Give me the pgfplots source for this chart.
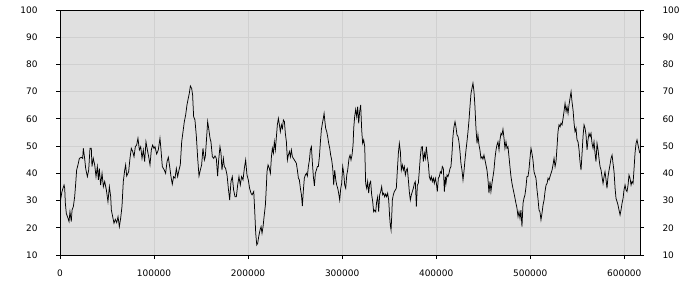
\documentclass[border=0pt]{standalone}
\usepackage{fontspec}
\setmainfont{DejaVu Sans}
\usepackage{pgfplots}
\usepackage{pgfplotstable}
\pgfplotsset{compat=1.18}
\definecolor{bg}{RGB}{224,224,224}
\definecolor{gridc}{RGB}{208,208,208}
\pgfplotstableread{
x y
0 29.0
2100 33.3
4300 35.7
5000 34.5
5700 29.0
6700 25.3
8500 23.5
9600 22.3
10600 25.9
12000 22.3
12800 26.5
14200 27.8
15600 31.4
16700 36.3
17700 41.2
19100 43.1
20600 45.5
22700 45.9
24100 45.5
24800 49.2
26200 45.5
27300 41.8
29100 38.8
30500 41.2
31900 49.2
33300 49.2
34000 42.5
35400 45.5
36900 43.1
38300 38.8
39700 42.5
40800 37.6
41800 41.8
43200 35.7
44700 40.0
46100 35.1
47500 37.0
49300 33.9
51000 29.6
52500 35.1
53900 31.4
54600 26.5
56000 24.1
57400 21.7
58800 23.1
60300 21.9
61700 24.1
63100 20.4
64500 23.5
65900 27.8
67300 37.0
68800 41.2
69800 43.1
70900 39.0
73000 40.6
74400 45.5
75800 49.2
77300 48.0
78700 46.1
80100 49.8
81500 50.4
82900 52.9
84400 48.6
85800 49.8
87200 45.5
88600 48.6
90000 44.3
91400 51.6
92900 48.6
94300 46.1
95700 43.1
97100 48.6
98500 50.4
99900 49.2
101000 49.8
102800 47.1
104500 48.6
106300 52.9
107400 48.6
108800 42.5
110900 41.2
112300 40.0
113800 44.3
115200 45.9
116600 42.5
118000 38.8
119400 36.0
120800 38.8
122300 38.2
123700 41.8
125100 38.8
126500 41.2
127900 43.1
129400 51.6
130800 55.3
132200 59.0
133600 61.4
135000 65.1
136400 67.6
137500 69.4
138600 72.1
140000 71.2
141000 68.8
142100 60.8
143500 59.6
145000 53.5
146400 45.5
147800 39.0
149200 41.2
150600 43.1
152000 49.2
153500 44.9
154500 46.1
155600 51.6
157000 59.0
158100 56.5
159500 52.9
160500 51.6
162000 46.1
163400 45.5
164800 46.4
166200 45.5
167600 39.0
168700 44.9
170100 49.8
171200 47.4
172200 41.2
173700 45.5
174700 42.5
176100 41.8
177600 39.4
179000 34.5
180400 30.2
181800 37.0
183200 38.8
184600 33.9
186100 31.4
187500 31.4
188900 35.7
190300 38.8
191700 35.7
193100 38.8
194600 37.6
196000 41.8
197400 44.9
198800 39.4
200200 37.6
201600 34.5
203100 32.7
204200 32.1
206000 33.3
207000 26.5
208100 18.0
209200 13.7
210200 14.3
211300 16.8
212700 19.2
213800 20.4
214800 18.0
215900 20.4
217000 24.1
218400 28.4
219400 35.1
220100 40.6
221200 43.1
222600 41.8
223700 40.0
224800 46.1
225800 49.2
226900 47.4
227900 51.6
229000 48.6
230100 53.5
231100 57.8
232200 60.2
233300 57.8
234300 55.3
235400 57.8
236500 56.5
237500 59.6
238600 59.0
239600 54.7
240700 51.6
241800 44.9
242800 46.7
243900 48.0
245000 46.1
246000 48.6
247100 46.1
248100 45.5
249200 44.9
250300 44.3
251300 43.7
252400 41.2
253500 38.2
254500 37.6
255600 34.5
256700 32.1
257700 28.0
258800 33.9
259800 38.2
260900 39.4
262000 40.0
263000 39.0
264100 42.5
265200 44.9
266200 48.6
267300 49.8
268400 43.7
269400 38.8
270500 35.4
271500 40.0
272600 41.2
273700 42.5
274700 42.5
275800 46.1
276900 51.6
277900 56.0
279000 58.4
280000 60.2
280800 62.0
281500 59.6
282500 56.5
283600 55.3
284600 53.5
285700 51.0
286800 49.2
287800 46.7
288900 44.9
290000 41.8
291000 35.7
292100 41.2
293200 37.6
294200 35.7
295300 34.5
296300 32.7
297400 30.2
298500 34.5
299500 36.3
300600 42.5
301700 40.0
302700 35.7
303800 34.5
304900 39.4
305900 41.2
307300 45.5
308400 46.7
309400 44.9
310500 46.7
311600 50.4
312300 56.5
313300 60.8
314400 63.5
315500 60.8
316500 64.5
317600 58.4
318600 62.7
319700 65.1
320800 55.9
321800 51.0
322900 52.3
324000 49.8
325000 36.3
326100 34.5
327100 37.0
328200 32.7
329300 36.3
330300 37.0
331400 32.1
332500 29.6
333500 25.9
334600 26.5
335700 25.9
336700 29.6
337800 31.4
338800 25.9
339900 32.1
341000 33.3
342000 35.1
343100 32.1
344200 32.7
345200 31.4
346300 32.4
347300 31.4
348400 32.7
349500 30.2
350500 24.1
351200 21.0
352000 19.2
352700 24.1
353400 30.2
354400 32.1
355500 33.3
356600 33.9
357600 34.5
358700 41.2
359800 47.4
360800 51.0
361900 48.0
362900 41.2
364000 43.1
365100 41.2
366100 42.5
367200 39.4
368300 41.2
369300 41.8
370400 37.6
371400 33.3
372500 30.2
373600 32.1
374600 33.3
375700 34.5
376800 36.3
377800 37.0
378900 27.8
380000 35.7
381000 36.3
382100 41.2
383100 46.1
384200 49.6
385300 49.8
386300 44.3
387400 47.4
388500 45.5
389500 49.8
390600 46.1
391600 43.7
392700 38.8
393800 37.6
394800 38.8
395900 37.0
397000 38.2
398000 36.3
399100 38.2
400200 36.3
401200 33.3
402300 38.2
403300 38.8
404400 40.6
405500 40.0
406500 42.5
407600 41.8
408700 33.3
409700 38.8
410400 36.3
411500 39.4
412500 38.8
413600 40.0
414700 41.8
415700 42.5
416800 47.4
417800 53.5
418900 57.1
420000 59.0
421000 57.1
422100 54.1
423200 53.5
424200 51.6
425300 48.0
426300 43.7
427400 41.2
428500 37.6
429500 40.6
430600 44.9
431700 48.6
432700 51.6
433800 55.3
434900 59.6
435900 64.5
437000 69.4
438000 71.2
439100 73.1
440200 70.0
441200 64.5
442300 56.5
443400 51.0
444400 54.1
445500 50.4
446500 48.6
447600 45.5
448700 46.1
449700 45.2
450800 46.7
451900 44.9
452900 43.1
454000 41.2
455100 37.6
456100 32.7
457200 37.0
458200 33.3
459300 36.3
460400 38.8
461400 41.2
462500 45.5
463600 48.6
464600 50.4
465700 51.6
466800 48.6
467800 52.3
468900 54.7
469900 54.1
471000 56.2
472100 52.9
473100 49.2
474200 51.6
475300 49.2
476300 49.8
477400 46.1
478400 42.5
479500 38.8
480600 36.3
481600 34.5
482700 32.7
483800 30.8
484800 29.0
485900 27.2
487000 24.1
488000 25.9
489100 23.5
490100 26.5
491200 20.4
492300 29.0
493300 30.8
494400 32.1
495500 35.1
496500 38.8
497600 38.8
498600 41.2
499700 45.5
500800 49.2
501800 47.4
502900 44.9
504000 40.6
505000 39.4
506100 38.2
507200 33.9
508200 30.8
509300 26.5
510300 25.9
511400 22.9
512500 25.3
513600 28.4
514700 30.2
515700 33.3
516800 35.7
517900 36.3
518900 38.2
520000 37.6
521000 38.8
522100 40.0
523200 41.2
524200 43.1
525300 45.5
526400 42.5
527400 44.3
528500 49.8
529500 55.3
530600 57.8
531700 57.1
532700 58.4
533800 57.8
534900 60.2
535900 62.7
537000 65.7
538100 62.7
539100 64.5
540200 62.0
541200 65.1
542300 67.6
543400 70.0
544400 66.3
545500 63.3
546600 58.4
547600 55.3
548700 56.5
549700 52.3
550800 51.6
551900 48.6
552900 44.3
554000 41.2
555100 47.4
556100 53.5
557200 57.8
558300 56.5
559300 54.1
560400 48.6
561400 52.3
562500 54.7
563600 53.5
564600 54.7
565700 51.0
566800 49.2
567800 51.6
568900 47.4
569900 44.3
571000 51.0
572100 48.6
573100 45.5
574200 42.5
575300 41.2
576300 38.8
577400 36.3
578500 38.8
579500 40.6
580600 37.6
581600 34.5
582700 38.8
583800 41.2
584800 43.1
585900 45.5
587000 46.7
588000 43.7
589100 40.6
590200 34.5
591200 30.8
592300 29.6
593300 28.4
594400 26.5
595500 24.7
596500 26.5
597600 29.0
598700 30.8
599700 33.9
600800 35.7
601800 33.9
602900 33.3
604000 35.7
605000 39.4
606100 38.2
607200 35.7
608200 37.0
609300 36.3
610400 41.8
611400 47.4
612500 51.0
613500 52.3
614600 50.4
615700 48.6
616400 47.4
}\series
\begin{document}
\begin{tikzpicture}
\useasboundingbox (-60bp,-45bp) rectangle (640bp,255bp);
\pgfplotsset{common/.style={
  scale only axis, width=580bp, height=245bp,
  at={(0,0)}, anchor=south west,
  xmin=0, xmax=616700, ymin=10, ymax=100,
  ytick={10,20,...,100},
  tick label style={font=\fontsize{9}{10}\selectfont, /pgf/number format/assume math mode=true},
  tick align=outside, major tick length=4bp,
  tick style={black, line width=0.8bp},
  axis line style={black, line width=0.8bp},
}}
\begin{axis}[common,
  axis background/.style={fill=bg},
  grid=major, grid style={gridc, line width=0.8bp},
  xtick={0,100000,...,600000},
  scaled x ticks=false,
  xticklabel style={yshift=-7bp, /pgf/number format/.cd, fixed, 1000 sep={}},
  xtick pos=bottom, ytick pos=left,
  yticklabel style={xshift=-15bp},
]
\addplot[black, line width=0.75bp] table[x=x, y=y] {\series};
\end{axis}
\begin{axis}[common,
  axis x line=none, axis y line*=right,
  ytick pos=right, yticklabel pos=right,
  yticklabel style={xshift=15bp},
]
\end{axis}
\end{tikzpicture}
\end{document}
